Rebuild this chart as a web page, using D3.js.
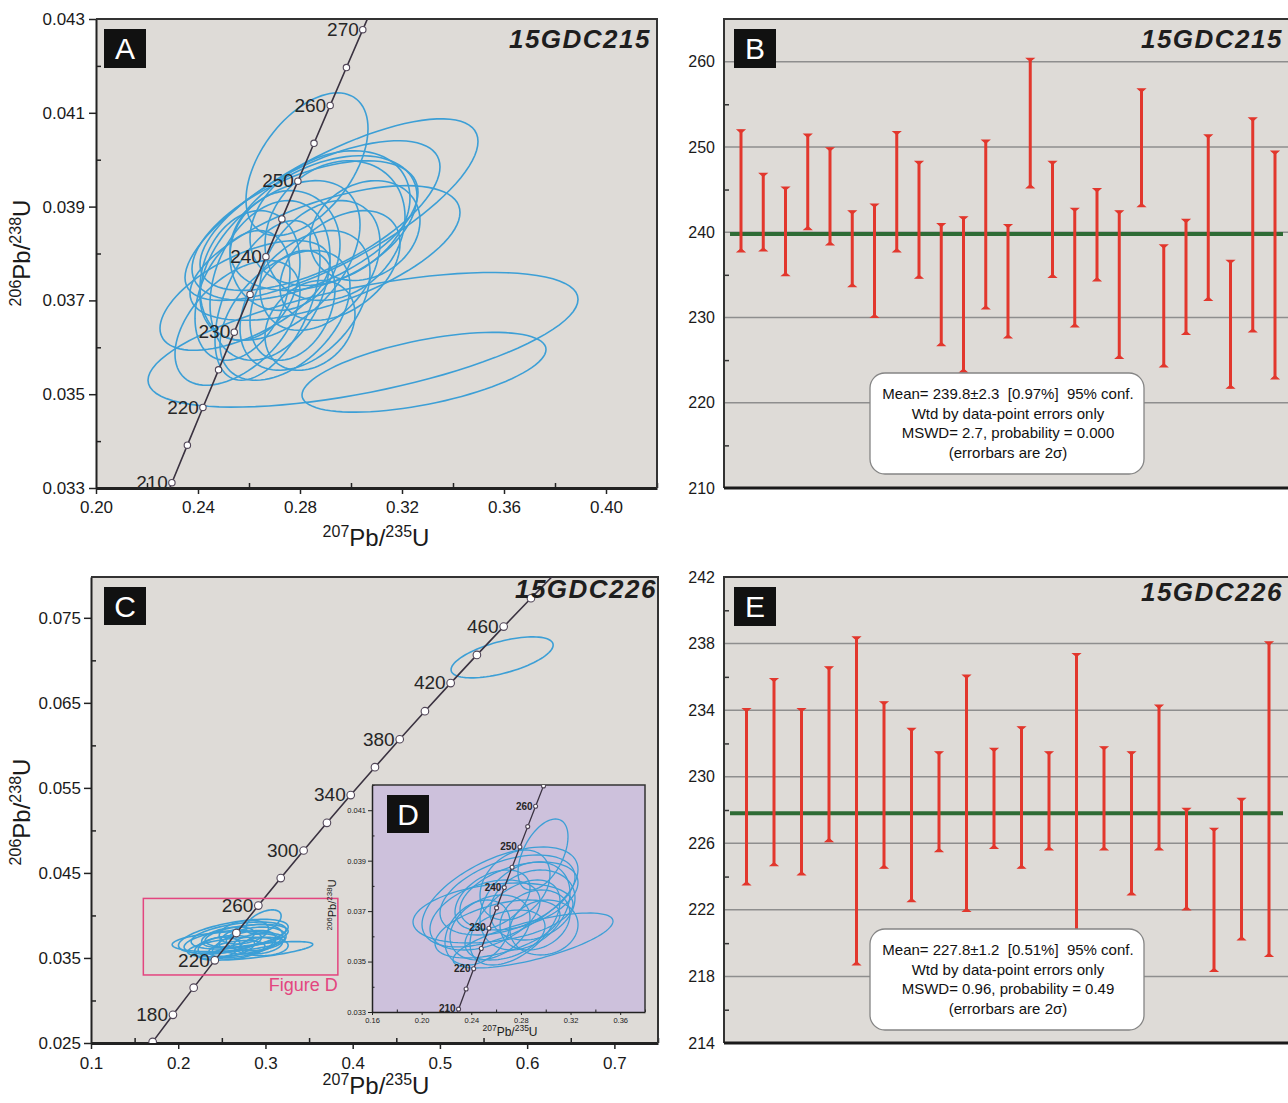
<!DOCTYPE html>
<html><head><meta charset="utf-8">
<script src="https://cdn.jsdelivr.net/npm/d3@7"></script>
<style>body{margin:0;background:#fff}svg{display:block}text{font-family:'Liberation Sans',Arial,sans-serif}</style>
</head><body>
<svg id="chart" width="1288" height="1103"></svg>
<script>
// ---------- DATA ----------
// Concordia ages (Ma) and ratios for the 200-280 Ma window (panels A and D)
const concAges = [205,210,215,220,225,230,235,240,245,250,255,260,265,270,275];
const concX = [0.22372,0.22976,0.23583,0.24193,0.24806,0.25422,0.26041,0.26664,0.27289,0.27917,0.28549,0.29183,0.29821,0.30462,0.31106];
const concY = [0.032312,0.033113,0.033914,0.034717,0.035519,0.036323,0.037127,0.037932,0.038737,0.039543,0.040350,0.041157,0.041965,0.042773,0.043582];
const labelsA = [210,220,230,240,250,260,270];
const labelsD = [210,220,230,240,250,260];
// Concordia for panel C
const concAgesC = [160,180,200,220,240,260,280,300,320,340,360,380,400,420,440,460,480,500];
const concXC = [0.17069,0.19396,0.21771,0.24193,0.26664,0.29183,0.31753,0.34374,0.37047,0.39773,0.42553,0.45389,0.48281,0.51231,0.54239,0.57307,0.60436,0.63628];
const concYC = [0.025131,0.028316,0.031511,0.034717,0.037932,0.041157,0.044392,0.047637,0.050893,0.054158,0.057434,0.060720,0.064016,0.067322,0.070638,0.073965,0.077302,0.080650];
const labelsC = [180,220,260,300,340,380,420,460];

// Sample 15GDC215 error ellipses (207Pb/235U, 206Pb/238U, half-widths, correlation)
const s215_x = [0.30471,0.32863,0.28275,0.29235,0.28980,0.28196,0.28922,0.29176,0.29373,0.27216,0.26824,0.26039,0.26725,0.28196,0.25745,0.27412,0.28784,0.29569,0.25843,0.25549,0.27412,0.30549,0.27706,0.28392,0.28784];
const s215_y = [0.036160,0.035468,0.039904,0.038936,0.038011,0.038489,0.038649,0.038755,0.038489,0.037851,0.037426,0.037532,0.037000,0.037000,0.037106,0.036681,0.037745,0.037745,0.037106,0.036521,0.038064,0.038489,0.036894,0.036468,0.038809];
const s215_ex = [0.084314,0.047843,0.023922,0.057450,0.052941,0.044314,0.036667,0.031373,0.027451,0.031373,0.023529,0.019608,0.020588,0.025490,0.018627,0.025490,0.023529,0.023529,0.033333,0.024510,0.021569,0.021569,0.016667,0.017647,0.047059];
const s215_ey = [0.001436,0.000851,0.001521,0.001936,0.001436,0.001489,0.001436,0.001436,0.001489,0.001702,0.001702,0.001383,0.001702,0.001489,0.001383,0.001383,0.001383,0.001170,0.001170,0.001330,0.001277,0.001064,0.001170,0.000957,0.001596];
const s215_rho = [0.60,0.57,0.50,0.75,0.60,0.55,0.40,0.30,0.20,0.45,0.30,0.20,0.50,0.40,0.35,0.45,0.35,0.40,0.60,0.50,0.10,0.20,0.30,0.25,0.65];

// Sample 15GDC226 error ellipses
const s226_x = [0.28975,0.25751,0.29780,0.26315,0.26920,0.27846,0.28330,0.25106,0.25509,0.27524,0.28934,0.24502,0.29136,0.26718,0.27524,0.25711,0.29861,0.26114,0.57130];
const s226_y = [0.035835,0.036925,0.039245,0.037560,0.037639,0.037599,0.037203,0.036846,0.036350,0.036548,0.037242,0.036152,0.036648,0.036053,0.038035,0.037441,0.036350,0.036291,0.070350];
const s226_ex = [0.064469,0.064469,0.020147,0.062858,0.054396,0.047546,0.036264,0.044323,0.032235,0.036264,0.034250,0.026191,0.028205,0.032235,0.028205,0.030220,0.027400,0.050367,0.058500];
const s226_ey = [0.001090,0.001189,0.001408,0.001982,0.001586,0.001348,0.001745,0.001388,0.001289,0.001685,0.001388,0.001289,0.001189,0.000991,0.001388,0.001189,0.001090,0.001150,0.002410];
const s226_rho = [0.70,0.30,0.50,0.55,0.45,0.40,0.30,0.40,0.30,0.50,0.20,0.30,0.20,0.35,0.30,0.40,0.10,0.50,0.60];

// Weighted mean age error bars (Ma), 2 sigma
const ageB_hi = [252.0,246.9,245.3,251.5,249.9,242.5,243.3,251.8,248.3,241.0,241.8,250.8,240.9,260.4,248.3,242.8,245.1,242.5,256.8,238.5,241.5,251.4,236.7,253.4,249.5];
const ageB_lo = [237.7,237.8,234.9,240.3,238.5,233.6,230.0,237.7,234.6,226.7,223.6,231.0,227.6,245.2,234.7,228.9,234.3,225.2,243.0,224.2,228.0,232.0,221.7,228.3,222.8];
const meanB = 239.8;
const ageE_hi = [234.1,235.9,234.1,236.6,238.4,234.5,232.9,231.5,236.1,231.7,233.0,231.5,237.4,231.8,231.5,234.3,228.1,226.9,228.7,238.1];
const ageE_lo = [223.5,224.65,224.1,226.1,218.7,224.5,222.5,225.5,221.9,225.7,224.5,225.6,218.2,225.6,222.9,225.6,222.0,218.3,220.2,219.2];
const meanE = 227.8;

const ticksAx = [0.20,0.24,0.28,0.32,0.36,0.40], minorAx = [0.22,0.26,0.30,0.34,0.38,0.42];
const ticksAy = [0.033,0.035,0.037,0.039,0.041,0.043], minorAy = [0.034,0.036,0.038,0.040,0.042];
const ticksCx = [0.1,0.2,0.3,0.4,0.5,0.6,0.7], minorCx = [0.15,0.25,0.35,0.45,0.55,0.65,0.75];
const ticksCy = [0.025,0.035,0.045,0.055,0.065,0.075], minorCy = [0.030,0.040,0.050,0.060,0.070];
const ticksDx = [0.16,0.20,0.24,0.28,0.32,0.36], minorDx = [0.18,0.22,0.26,0.30,0.34,0.38];
const ticksDy = [0.033,0.035,0.037,0.039,0.041], minorDy = [0.034,0.036,0.038,0.040,0.042];
const ticksB = [210,220,230,240,250,260], gridB = [220,230,240,250,260], minorB = [215,225,235,245,255];
const ticksE = [214,218,222,226,230,234,238,242], gridE = [218,222,226,230,234,238], minorE = [216,220,224,228,232,236,240];

const boxB = ["Mean= 239.8\u00B12.3  [0.97%]  95% conf.","Wtd by data-point errors only","MSWD= 2.7, probability = 0.000","(errorbars are 2\u03C3)"];
const boxE = ["Mean= 227.8\u00B11.2  [0.51%]  95% conf.","Wtd by data-point errors only","MSWD= 0.96, probability = 0.49","(errorbars are 2\u03C3)"];

// ---------- STYLE ----------
const BG='#dedbd7', BLUE='#3c9fd6', CURVE='#3a3240', RED='#e2372d', GREEN='#2e6b35', GRID='#8e8e8e', PINK='#e3457f', LAV='#cdc1dc', INK='#1a1a1a';

const svg = d3.select('#chart');
const defs = svg.append('defs');
function clip(id,x,y){
  defs.append('clipPath').attr('id',id).append('rect')
    .attr('x',x.range()[0]).attr('y',y.range()[1])
    .attr('width',x.range()[1]-x.range()[0]).attr('height',y.range()[0]-y.range()[1]);
}
const closed = d3.line().curve(d3.curveLinearClosed);
function ellPts(x,y,cx,cy,ex,ey,r){
  const q=Math.sqrt(1-r*r);
  return d3.range(90).map(k=>{const t=k/90*2*Math.PI;
    return [x(cx+ex*Math.cos(t)), y(cy+ey*(r*Math.cos(t)+q*Math.sin(t)))];});
}
function drawEllipses(g,x,y,X,Y,EX,EY,R,w,clipId){
  g.append('g').attr('clip-path',`url(#${clipId})`).selectAll('path').data(d3.range(X.length)).join('path')
    .attr('d',i=>closed(ellPts(x,y,X[i],Y[i],EX[i],EY[i],R[i])))
    .attr('fill','none').attr('stroke',BLUE).attr('stroke-width',w);
}
function drawConcordia(g,x,y,ages,X,Y,labels,r,fs,dx,lw,clipId,bold){
  const gc=g.append('g').attr('clip-path',`url(#${clipId})`);
  gc.append('path').attr('d',d3.line()(ages.map((a,i)=>[x(X[i]),y(Y[i])])))
    .attr('fill','none').attr('stroke',CURVE).attr('stroke-width',lw);
  gc.selectAll('circle').data(d3.range(ages.length)).join('circle')
    .attr('cx',i=>x(X[i])).attr('cy',i=>y(Y[i])).attr('r',r)
    .attr('fill','#fff').attr('stroke','#514658').attr('stroke-width',1.1);
  g.append('g').selectAll('text').data(d3.range(ages.length).filter(i=>labels.includes(ages[i]))).join('text')
    .attr('x',i=>x(X[i])-dx).attr('y',i=>y(Y[i])).attr('dy','0.33em')
    .attr('text-anchor','end').style('font-size',fs+'px').style('font-weight',bold?'bold':'normal')
    .attr('fill','#262626').text(i=>ages[i]);
}
function styleAxis(a,fs){
  a.attr('font-family',"'Liberation Sans',Arial,sans-serif").attr('font-size',fs);
  a.selectAll('text').attr('fill',INK);
}
function isoAxes(g,x,y,xt,xm,yt,ym,fx,fy,o){
  const y0=y.range()[0], y1=y.range()[1], x0=x.range()[0], x1=x.range()[1];
  g.append('rect').attr('x',x0).attr('y',y1).attr('width',x1-x0).attr('height',y0-y1).attr('fill',o.bg);
  const ab=g.append('g').attr('transform',`translate(0,${y0})`)
    .call(d3.axisBottom(x).tickValues(xt).tickFormat(d3.format(fx)).tickSize(o.maj).tickSizeOuter(0).tickPadding(o.padx));
  styleAxis(ab,o.fs); ab.select('.domain').attr('stroke','#222').attr('stroke-width',o.bw);
  ab.selectAll('line').attr('stroke','#222').attr('stroke-width',o.tw);
  const abm=g.append('g').attr('transform',`translate(0,${y0})`)
    .call(d3.axisBottom(x).tickValues(xm).tickFormat('').tickSize(-o.min).tickSizeOuter(0));
  abm.select('.domain').remove(); abm.selectAll('line').attr('stroke','#222').attr('stroke-width',o.tw);
  const al=g.append('g').attr('transform',`translate(${x0},0)`)
    .call(d3.axisLeft(y).tickValues(yt).tickFormat(d3.format(fy)).tickSize(o.maj+1).tickSizeOuter(0).tickPadding(o.pady));
  styleAxis(al,o.fs); al.select('.domain').attr('stroke','#222').attr('stroke-width',o.lw);
  al.selectAll('line').attr('stroke','#222').attr('stroke-width',o.tw);
  const alm=g.append('g').attr('transform',`translate(${x0},0)`)
    .call(d3.axisLeft(y).tickValues(ym).tickFormat('').tickSize(-o.min).tickSizeOuter(0));
  alm.select('.domain').remove(); alm.selectAll('line').attr('stroke','#222').attr('stroke-width',o.tw);
  g.append('path').attr('d',`M${x0},${y1}H${x1}V${y0}`).attr('fill','none').attr('stroke','#333').attr('stroke-width',o.lw);
}
function ratioTitle(g,x,y,rot,a,b,fs,ss){
  const t=g.append('text').attr('transform',`translate(${x},${y}) rotate(${rot})`)
    .attr('text-anchor','middle').style('font-size',fs+'px').attr('fill',INK);
  t.append('tspan').text(a).style('font-size',ss+'px').attr('dy',-fs*0.38);
  t.append('tspan').text('Pb/').attr('dy',fs*0.38);
  t.append('tspan').text(b).style('font-size',ss+'px').attr('dy',-fs*0.38);
  t.append('tspan').text('U').attr('dy',fs*0.38);
}
function letterBox(g,x,y,w,h,L,fs){
  g.append('rect').attr('x',x).attr('y',y).attr('width',w).attr('height',h).attr('fill','#111');
  g.append('text').attr('x',x+w/2).attr('y',y+h/2).attr('dy','0.36em').attr('text-anchor','middle')
    .style('font-size',fs+'px').attr('fill','#fff').text(L);
}
function sampleLabel(g,x,y,s){
  g.append('text').attr('x',x).attr('y',y).attr('text-anchor','end')
    .style('font-size','26px').style('font-weight','bold').style('font-style','italic')
    .style('letter-spacing','1.5px').attr('fill','#1e1e1e').text(s);
}

// ---------- PANEL A ----------
const gA=svg.append('g');
const xA=d3.scaleLinear().domain([0.20,0.42]).range([96,657]);
const yA=d3.scaleLinear().domain([0.033,0.043]).range([488,19]);
clip('cA',xA,yA);
isoAxes(gA,xA,yA,ticksAx,minorAx,ticksAy,minorAy,'.2f','.3f',{bg:BG,fs:17,maj:6,min:5,padx:7,pady:4,bw:3,lw:2,tw:1.5});
drawEllipses(gA,xA,yA,s215_x,s215_y,s215_ex,s215_ey,s215_rho,1.6,'cA');
drawConcordia(gA,xA,yA,concAges,concX,concY,labelsA,3.2,19,4,1.6,'cA',false);
letterBox(gA,104,29,42,39,'A',30);
sampleLabel(gA,651,48,'15GDC215');
ratioTitle(gA,30,253,-90,'206','238',24,16);
ratioTitle(gA,376,546,0,'207','235',24,16);

// ---------- PANEL C ----------
const gC=svg.append('g');
const xC=d3.scaleLinear().domain([0.1,0.75]).range([91,658]);
const yC=d3.scaleLinear().domain([0.025,0.0798]).range([1043,577]);
clip('cC',xC,yC);
isoAxes(gC,xC,yC,ticksCx,minorCx,ticksCy,minorCy,'.1f','.3f',{bg:BG,fs:17,maj:6,min:5,padx:8,pady:3,bw:3,lw:2,tw:1.5});
drawEllipses(gC,xC,yC,s226_x,s226_y,s226_ex,s226_ey,s226_rho,1.6,'cC');
drawConcordia(gC,xC,yC,concAgesC,concXC,concYC,labelsC,3.8,19,5,1.6,'cC',false);
// Figure D outline
gC.append('rect').attr('x',xC(0.16)).attr('y',yC(0.042)).attr('width',xC(0.383)-xC(0.16)).attr('height',yC(0.033)-yC(0.042))
  .attr('fill','none').attr('stroke',PINK).attr('stroke-width',1.5);
gC.append('text').attr('x',xC(0.383)).attr('y',991).attr('text-anchor','end').style('font-size','18px').attr('fill',PINK).text('Figure D');
letterBox(gC,104,587,42,38,'C',30);
ratioTitle(gC,30,812,-90,'206','238',24,16);
ratioTitle(gC,376,1094,0,'207','235',24,16);

// ---------- PANEL D (inset) ----------
const gD=svg.append('g');
const xD=d3.scaleLinear().domain([0.16,0.38]).range([372,645]);
const yD=d3.scaleLinear().domain([0.033,0.042]).range([1012,785]);
clip('cD',xD,yD);
isoAxes(gD,xD,yD,ticksDx,minorDx,ticksDy,minorDy,'.2f','.3f',{bg:LAV,fs:7.5,maj:3,min:2.5,padx:3,pady:2,bw:1.5,lw:1.5,tw:1});
drawEllipses(gD,xD,yD,s226_x,s226_y,s226_ex,s226_ey,s226_rho,1.3,'cD');
drawConcordia(gD,xD,yD,concAges,concX,concY,labelsD,2,10,3,1.3,'cD',true);
letterBox(gD,387,795,42,38,'D',30);
ratioTitle(gD,336,905,-90,'206','238',11,8);
ratioTitle(gD,510,1036,0,'207','235',12,8.5);
sampleLabel(gC,657,598,'15GDC226');

// ---------- WEIGHTED MEAN PANELS ----------
function meanPanel(yTop,yBot,dom,hi,lo,mean,ticks,grid,minor,xr,box,boxY,letter,sample,sampY){
  const g=svg.append('g');
  const x0=724,x1=1292;
  const y=d3.scaleLinear().domain(dom).range([yBot,yTop]);
  const x=d3.scalePoint().domain(d3.range(hi.length)).range(xr);
  g.append('rect').attr('x',x0).attr('y',yTop).attr('width',x1-x0).attr('height',yBot-yTop).attr('fill',BG);
  g.selectAll('.grid').data(grid).join('line').attr('x1',x0).attr('x2',x1).attr('y1',d=>y(d)).attr('y2',d=>y(d))
    .attr('stroke',GRID).attr('stroke-width',1.5);
  const al=g.append('g').attr('transform',`translate(${x0},0)`)
    .call(d3.axisLeft(y).tickValues(ticks).tickFormat(d3.format('d')).tickSize(0).tickPadding(9));
  styleAxis(al,16); al.select('.domain').remove();
  const alm=g.append('g').attr('transform',`translate(${x0},0)`)
    .call(d3.axisLeft(y).tickValues(minor).tickFormat('').tickSize(-5).tickSizeOuter(0));
  alm.select('.domain').remove(); alm.selectAll('line').attr('stroke','#333').attr('stroke-width',1.5);
  g.append('path').attr('d',`M${x1},${yTop}H${x0}V${yBot}`).attr('fill','none').attr('stroke','#333').attr('stroke-width',2);
  g.append('line').attr('x1',x0).attr('x2',x1).attr('y1',yBot).attr('y2',yBot).attr('stroke','#1a1a1a').attr('stroke-width',3);
  // mean line
  g.append('line').attr('x1',730).attr('x2',1283).attr('y1',y(mean)).attr('y2',y(mean)).attr('stroke',GREEN).attr('stroke-width',4);
  // error bars
  const bars=g.append('g').selectAll('g').data(d3.range(hi.length)).join('g');
  bars.append('line').attr('x1',i=>x(i)).attr('x2',i=>x(i)).attr('y1',i=>y(hi[i])).attr('y2',i=>y(lo[i]))
    .attr('stroke',RED).attr('stroke-width',3);
  bars.append('path').attr('d',i=>`M${x(i)-3.5},${y(hi[i])}h7l-3.5,3z M${x(i)-3.5},${y(lo[i])}h7l-3.5,-3z`)
    .attr('fill',RED).attr('stroke',RED).attr('stroke-width',1.2);
  // text box
  g.append('rect').attr('x',870).attr('y',boxY).attr('width',274).attr('height',101).attr('rx',15)
    .attr('fill','#fff').attr('stroke','#858585').attr('stroke-width',1.3);
  g.selectAll('.bt').data(box).join('text').attr('x',1008).attr('y',(d,i)=>boxY+26+i*19.5)
    .attr('text-anchor','middle').style('font-size','15px').style('white-space','pre').attr('xml:space','preserve')
    .attr('fill','#111').text(d=>d);
  letterBox(g,734,yTop+10,42,39,letter,30);
  sampleLabel(g,1283,sampY,sample);
}
meanPanel(19,488,[210,265],ageB_hi,ageB_lo,meanB,ticksB,gridB,minorB,[741,1275],boxB,373,'B','15GDC215',48);
meanPanel(577,1043,[214,242],ageE_hi,ageE_lo,meanE,ticksE,gridE,minorE,[746.5,1269],boxE,929,'E','15GDC226',601);
</script>
</body></html>
